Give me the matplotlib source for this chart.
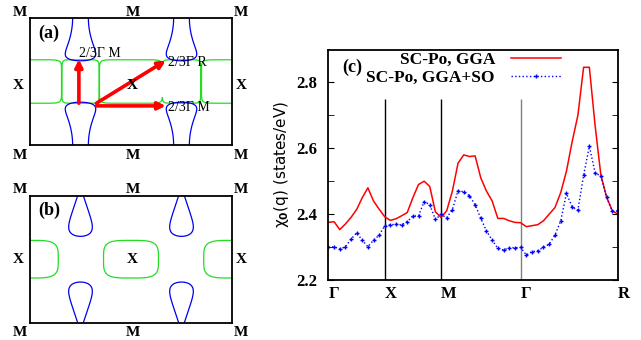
import numpy as np
import matplotlib
matplotlib.use('Agg')
import matplotlib.pyplot as plt

plt.rcParams['font.family'] = ['Liberation Serif', 'DejaVu Serif']
plt.rcParams['font.weight'] = 'bold'
plt.rcParams['mathtext.fontset'] = 'dejavusans'

# ---- panel (c): chi_0(q) along the k-path ----
path_labels = ['Γ', 'X', 'M', 'Γ', 'R']
path_nodes = [0.0, 1.0, 2.0, 2.0 + np.sqrt(2), 2.0 + np.sqrt(2) + np.sqrt(3)]
points_per_segment = [10, 10, 14, 17]

chi_gga = [2.375, 2.377, 2.353, 2.370, 2.390, 2.414, 2.450, 2.480, 2.440, 2.415,
           2.392, 2.381, 2.386, 2.395, 2.405, 2.450, 2.490, 2.500, 2.484, 2.407,
           2.390, 2.410, 2.470, 2.555, 2.580, 2.575, 2.577, 2.510, 2.470, 2.440,
           2.387, 2.387, 2.380, 2.375, 2.374, 2.362, 2.365, 2.368, 2.380, 2.400,
           2.420, 2.465, 2.530, 2.620, 2.700, 2.846, 2.846, 2.670, 2.520, 2.452,
           2.410, 2.400]
chi_gga_so = [2.299, 2.301, 2.294, 2.301, 2.324, 2.343, 2.321, 2.301, 2.321, 2.336,
              2.365, 2.367, 2.370, 2.367, 2.377, 2.394, 2.395, 2.438, 2.429, 2.384,
              2.399, 2.389, 2.414, 2.471, 2.468, 2.456, 2.429, 2.387, 2.349, 2.321,
              2.296, 2.291, 2.298, 2.298, 2.299, 2.276, 2.286, 2.289, 2.299, 2.309,
              2.336, 2.379, 2.463, 2.422, 2.412, 2.518, 2.606, 2.526, 2.515, 2.452,
              2.410, 2.410]
series_labels = ['SC-Po, GGA', 'SC-Po, GGA+SO']

# ---- panels (a), (b): Fermi surface cut shapes (box units 0..1) ----
a_green_cx = [0.0, 0.25, 0.5, 0.75, 1.0]
a_green_wx = [0.156, 0.092, 0.156, 0.095, 0.151]
a_green_wy = 0.171
a_blue_cx = [0.25, 0.75]
a_blue_neck, a_blue_flare, a_blue_len = 0.039, 0.55, 0.337

b_green_cx = [0.0, 0.5, 1.0]
b_green_wx = [0.140, 0.136, 0.140]
b_green_wy = 0.148
b_blue_cx = [0.25, 0.75]
b_blue_neck, b_blue_flare, b_blue_len = 0.014, 0.21, 0.32


def kpath():
    k = [path_nodes[0]]
    for i, n in enumerate(points_per_segment):
        k += list(np.linspace(path_nodes[i], path_nodes[i + 1], n + 1)[1:])
    return np.array(k)


def cells(X, Y, cxs, wxs, wy, p=6):
    F = np.full(X.shape, 1e9)
    for cx, wx in zip(cxs, wxs):
        F = np.minimum(F, np.abs((X - cx) / wx) ** p + np.abs((Y - 0.5) / wy) ** p)
    return F


def necks(X, Y, cxs, neck, flare, length, q, p):
    dy = np.minimum(np.abs(Y), np.abs(1 - Y))
    F = np.full(X.shape, 1e9)
    for cx in cxs:
        w = neck + flare * dy ** q
        F = np.minimum(F, ((X - cx) / w) ** 2 + (dy / length) ** p)
    return F


def corner_labels(ax, ytop, ybot, ymid, centre):
    kw = dict(transform=ax.transAxes, ha='center', va='center', fontsize=11, clip_on=False)
    for x in [-0.05, 0.51, 1.045]:
        ax.text(x, ytop, 'M', **kw)
        ax.text(x, ybot, 'M', **kw)
    ax.text(-0.06, ymid, 'X', **kw)
    ax.text(1.045, ymid, 'X', **kw)
    ax.text(0.508, ymid, 'X', **kw)
    ax.text(centre[0], centre[1], centre[2], transform=ax.transAxes,
            ha='center', va='center', fontsize=13)


def fs_axes(ax):
    ax.set_xlim(0, 1)
    ax.set_ylim(0, 1)
    ax.set_xticks([])
    ax.set_yticks([])
    for s in ax.spines.values():
        s.set_linewidth(1.3)


fig = plt.figure(figsize=(6.41, 3.40), dpi=100)
W, H = 641, 340

xs = np.linspace(0, 1, 700)
ys = np.linspace(0, 1, 500)
X, Y = np.meshgrid(xs, ys)

# panel (a)
ax_a = fig.add_axes([30 / W, (H - 145) / H, 202 / W, 127 / H])
fs_axes(ax_a)
ax_a.contour(X, Y, cells(X, Y, a_green_cx, a_green_wx, a_green_wy, p=10), levels=[1],
             colors='#22dd22', linewidths=0.9)
ax_a.contour(X, Y, necks(X, Y, a_blue_cx, a_blue_neck, a_blue_flare, a_blue_len, 2, 10),
             levels=[1], colors='#0000ee', linewidths=0.9)
arrows = [((0.242, 0.329), (0.242, 0.675)),
          ((0.329, 0.329), (0.672, 0.665)),
          ((0.329, 0.308), (0.672, 0.308))]
for start, end in arrows:
    ax_a.annotate('', xy=end, xytext=start, xycoords='axes fraction',
                  arrowprops=dict(arrowstyle='-|>', color='red', lw=2.6,
                                  mutation_scale=11, shrinkA=0, shrinkB=0))
for x, y, s in [(0.243, 0.724, '2/3Γ M'), (0.683, 0.646, '2/3Γ R'), (0.683, 0.299, '2/3Γ M')]:
    ax_a.text(x, y, s, transform=ax_a.transAxes, ha='left', va='center',
              fontsize=10, fontweight='normal')
corner_labels(ax_a, 1.045, -0.08, 0.47, (0.094, 0.882, '(a)'))

# panel (b)
ax_b = fig.add_axes([30 / W, (H - 322.7) / H, 202 / W, 127 / H])
fs_axes(ax_b)
ax_b.contour(X, Y, cells(X, Y, b_green_cx, b_green_wx, b_green_wy, p=4), levels=[1],
             colors='#22dd22', linewidths=0.9)
ax_b.contour(X, Y, necks(X, Y, b_blue_cx, b_blue_neck, b_blue_flare, b_blue_len, 1, 6),
             levels=[1], colors='#0000ee', linewidths=0.9)
corner_labels(ax_b, 1.045, -0.08, 0.494, (0.094, 0.887, '(b)'))

# panel (c)
ax = fig.add_axes([328.5 / W, (H - 280) / H, 289.5 / W, 230.5 / H])
k = kpath()
ax.vlines(path_nodes[1:4], 2.2, 2.75, colors=['black', 'black', 'gray'], linewidth=1.0)
ax.plot(k, chi_gga, color='red', lw=1.1, label=series_labels[0])
ax.plot(k, chi_gga_so, color='blue', ls=':', lw=1.0, marker='+', ms=3, mew=1.0,
        label=series_labels[1])
ax.set_xlim(path_nodes[0], path_nodes[-1])
ax.set_ylim(2.2, 2.9)
ax.set_xticks(path_nodes, path_labels)
for t in ax.get_xticklabels():
    t.set_ha('left')
ax.set_yticks([2.2, 2.4, 2.6, 2.8], ['2.2', '2.4', '2.6', '2.8'])
ax.set_yticks([2.3, 2.5, 2.7], minor=True)
ax.tick_params(axis='y', which='both', direction='in', right=True, length=4,
               labelsize=12, pad=8)
ax.tick_params(axis='x', length=0, labelsize=12, pad=4)
for s in ax.spines.values():
    s.set_linewidth(1.3)
ax.set_ylabel('χ$_0$(q) (states/eV)', family='DejaVu Sans', fontweight='normal',
              fontsize=11, labelpad=4)
ax.text(0.047, 0.924, '(c)', transform=ax.transAxes, ha='left', va='center', fontsize=13)
ax.legend(loc='upper right', bbox_to_anchor=(0.803, 0.99), markerfirst=False,
          frameon=False, fontsize=12.5, handlelength=2.9, handletextpad=0.9,
          labelspacing=0.1, borderpad=0, borderaxespad=0, numpoints=1)

fig.savefig('out.png', dpi=100)
